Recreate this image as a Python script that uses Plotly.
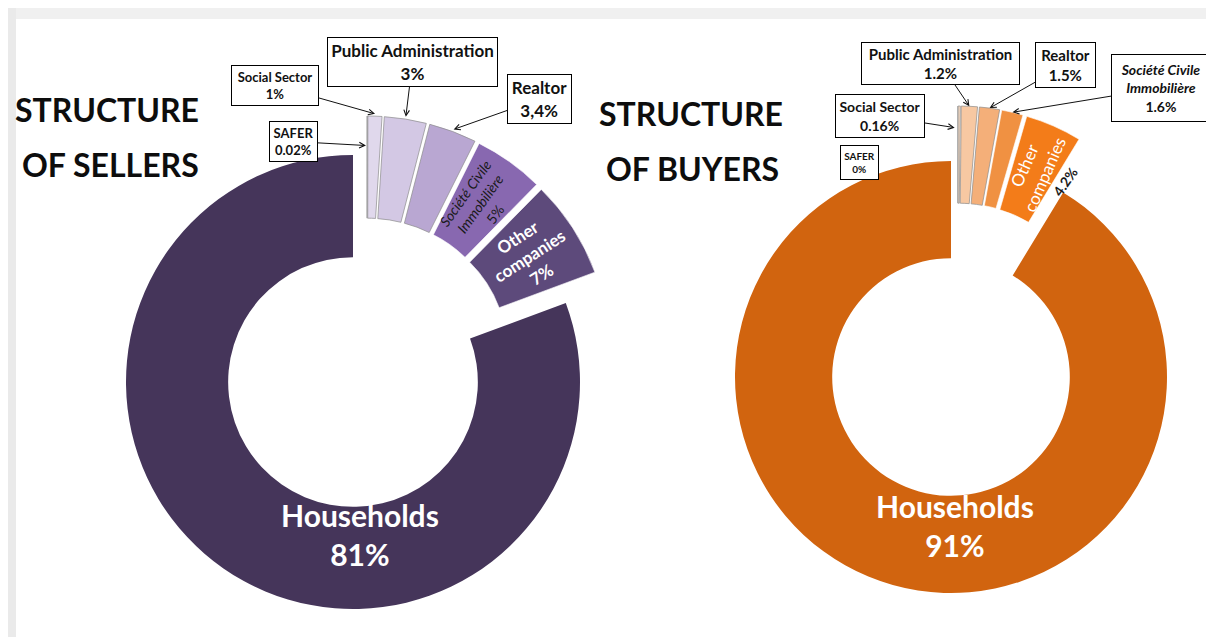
import math
import plotly.graph_objects as go

# ---------------- data ----------------
categories = ["SAFER", "Social Sector", "Public Administration", "Realtor",
              "Société Civile Immobilière", "Other companies", "Households"]
sellers = [0.02, 1, 3, 3.4, 5, 7, 81]
buyers = [0, 0.16, 1.2, 1.5, 1.6, 4.2, 91]
seller_text = ["0.02%", "1%", "3%", "3,4%", "5%", "7%", "81%"]
buyer_text = ["0%", "0.16%", "1.2%", "1.5%", "1.6%", "4.2%", "91%"]

# ---------------- style / layout ----------------
W, H = 1214, 637
HOLE = 0.55
FONT = "Lato, Calibri, Carlito, sans-serif"
CLEAR = "rgba(0,0,0,0)"

seller_colors = ["#E9E4F1", "#E0D8EC", "#D3C8E4", "#B9A7D2", "#8868B0", "#5D4A7B", "#45355A"]
buyer_colors = ["#FCE9DA", "#F9DCC4", "#F7C8A2", "#F4AF79", "#F09142", "#F37C19", "#D1640F"]

charts = [
    dict(values=sellers, texts=seller_text, colors=seller_colors,
         cA=(345, 374), r=227, cB=(359, 353), pull=18),
    dict(values=buyers, texts=buyer_text, colors=buyer_colors,
         cA=(943, 369), r=216, cB=(950, 336), pull=22),
]


def dom(c, half):
    return dict(x=[(c[0] - half) / W, (c[0] + half) / W],
                y=[1 - (c[1] + half) / H, 1 - (c[1] - half) / H])


def P(x, y):
    return x / W, 1 - y / H


def angles(vals, i):
    tot = sum(vals)
    start = sum(vals[:i]) / tot * 360
    end = start + vals[i] / tot * 360
    return start, end, (start + end) / 2


def pt(c, rad, ang):
    a = math.radians(ang)
    return c[0] + rad * math.sin(a), c[1] - rad * math.cos(a)


def pulled_center(ch, i):
    _, _, b = angles(ch["values"], i)
    return pt(ch["cB"], ch["pull"], b)


fig = go.Figure()
n = len(categories)
for ch in charts:
    r = ch["r"]
    p = ch["pull"] / r
    # main ring (households, not pulled)
    fig.add_trace(go.Pie(
        values=ch["values"], labels=categories, hole=HOLE, sort=False,
        direction="clockwise", rotation=0, textinfo="none", showlegend=False,
        marker=dict(colors=[CLEAR] * (n - 1) + [ch["colors"][-1]], line=dict(width=0)),
        domain=dom(ch["cA"], r), hoverinfo="label+percent"))
    # exploded small slices
    fig.add_trace(go.Pie(
        values=ch["values"], labels=categories, hole=HOLE, sort=False,
        direction="clockwise", rotation=0, textinfo="none", showlegend=False,
        pull=[p] * (n - 1) + [0],
        marker=dict(colors=ch["colors"][:-1] + [CLEAR],
                    line=dict(color=["rgba(140,140,140,0.7)"] * 4 + ["rgba(255,255,255,0.6)"] * 2 + [CLEAR],
                              width=[1] * (n - 1) + [0])),
        domain=dom(ch["cB"], r * (1 + p)), hoverinfo="label+percent"))

annotations = []
CENTER = dict(xanchor="center", yanchor="middle")


def box_label(ch, i, box, text, size, mode="mid", fr=1.01, delta=0.0, arrow=True):
    bx0, by0, bx1, by1 = box
    cx, cy = (bx0 + bx1) / 2, (by0 + by1) / 2
    common = dict(xref="paper", yref="paper", text=text, bordercolor="black",
                  borderwidth=1, borderpad=2, bgcolor="white",
                  width=bx1 - bx0 - 6, height=by1 - by0 - 6, align="center",
                  font=dict(family=FONT, size=size, color="#111111"))
    if not arrow:
        x, y = P(cx, cy)
        annotations.append(dict(x=x, y=y, showarrow=False, **CENTER, **common))
        return
    s, e, b = angles(ch["values"], i)
    ang = (b if mode == "mid" else s) - delta
    hx, hy = pt(pulled_center(ch, i), fr * ch["r"], ang)
    x, y = P(hx, hy)
    annotations.append(dict(x=x, y=y, showarrow=True, ax=cx - hx, ay=cy - hy,
                            axref="pixel", ayref="pixel", arrowhead=5, arrowsize=1.1,
                            arrowwidth=1, arrowcolor="#111111", standoff=0, **common))


L, R_ = charts
# sellers boxes
box_label(L, 1, (223, 57, 311, 98), "<b>Social Sector<br>" + L["texts"][1] + "</b>", 13)
box_label(L, 2, (319, 29, 490, 79), "<b>Public Administration<br>" + L["texts"][2] + "</b>", 17)
box_label(L, 3, (499, 66, 564, 116), "<b>Realtor<br>" + L["texts"][3] + "</b>", 17)
box_label(L, 0, (261, 113, 310, 154), "<b>SAFER<br>" + L["texts"][0] + "</b>", 13,
          mode="start", fr=0.87, delta=0.3)
# buyers boxes
box_label(R_, 2, (853, 34, 1012, 77), "<b>Public Administration<br>" + R_["texts"][2] + "</b>", 15, fr=1.0)
box_label(R_, 3, (1027, 34, 1088, 80), "<b>Realtor<br>" + R_["texts"][3] + "</b>", 15, fr=1.0)
box_label(R_, 4, (1103, 46, 1202, 114),
          "<b><i>Société Civile<br>Immobilière</i><br>" + R_["texts"][4] + "</b>", 14, fr=1.0)
box_label(R_, 1, (827, 86, 917, 130), "<b>Social Sector<br>" + R_["texts"][1] + "</b>", 14,
          mode="start", fr=0.9, delta=1.0)
box_label(R_, 0, (832, 137, 871, 172), "<b>SAFER<br>" + R_["texts"][0] + "</b>", 10, arrow=False)


def in_label(ch, i, text, size, color, rf=0.775, dang=0.0, bold=True):
    s, e, b = angles(ch["values"], i)
    ang = b + dang
    cx, cy = pt(pulled_center(ch, i), rf * ch["r"], ang)
    x, y = P(cx, cy)
    annotations.append(dict(x=x, y=y, xref="paper", yref="paper", showarrow=False,
                            text=("<b>%s</b>" % text) if bold else text,
                            textangle=-(90 - ang), align="center", **CENTER,
                            font=dict(family=FONT, size=size, color=color)))


in_label(L, 4, "<i>Société Civile<br>Immobilière</i><br>" + L["texts"][4], 14, "#1a1a1a", bold=False)
in_label(L, 5, "Other<br>companies<br>" + L["texts"][5], 17, "white")
in_label(R_, 5, "Other<br>companies", 17, "white", bold=False)
s5, e5, _ = angles(R_["values"], 5)
in_label(R_, 5, "<b>" + R_["texts"][5] + "</b>", 14, "#1a1a1a", dang=(e5 - s5) / 2 + 3.5, rf=0.8, bold=False)

# households labels
for ch, ang, rf in [(L, 177.5, 0.672), (R_, 178.5, 0.69)]:
    hx, hy = pt(ch["cA"], rf * ch["r"], ang)
    x, y = P(hx, hy)
    annotations.append(dict(x=x, y=y, xref="paper", yref="paper", showarrow=False,
                            text="<b>Households<br>%s</b>" % ch["texts"][6], **CENTER,
                            font=dict(family=FONT, size=30, color="white")))

# titles
for txt, cx, cy in [("STRUCTURE", 99, 102), ("OF SELLERS", 102, 157),
                    ("STRUCTURE", 683, 106), ("OF BUYERS", 684, 160)]:
    x, y = P(cx, cy)
    annotations.append(dict(x=x, y=y, xref="paper", yref="paper", showarrow=False,
                            text="<b>%s</b>" % txt, **CENTER,
                            font=dict(family=FONT, size=32, color="#0d0d0d")))

shapes = [
    dict(type="rect", xref="paper", yref="paper", x0=0, x1=1, y0=1 - 11 / H, y1=1,
         fillcolor="#F0F0F0", line=dict(width=0), layer="below"),
    dict(type="rect", xref="paper", yref="paper", x0=0, x1=8 / W, y0=0, y1=1,
         fillcolor="#EAEAEA", line=dict(width=0), layer="below"),
]

fig.update_layout(width=W, height=H, margin=dict(l=0, r=0, t=0, b=0),
                  paper_bgcolor="white", plot_bgcolor="white",
                  annotations=annotations, shapes=shapes, showlegend=False)
fig.write_html("out.html")
